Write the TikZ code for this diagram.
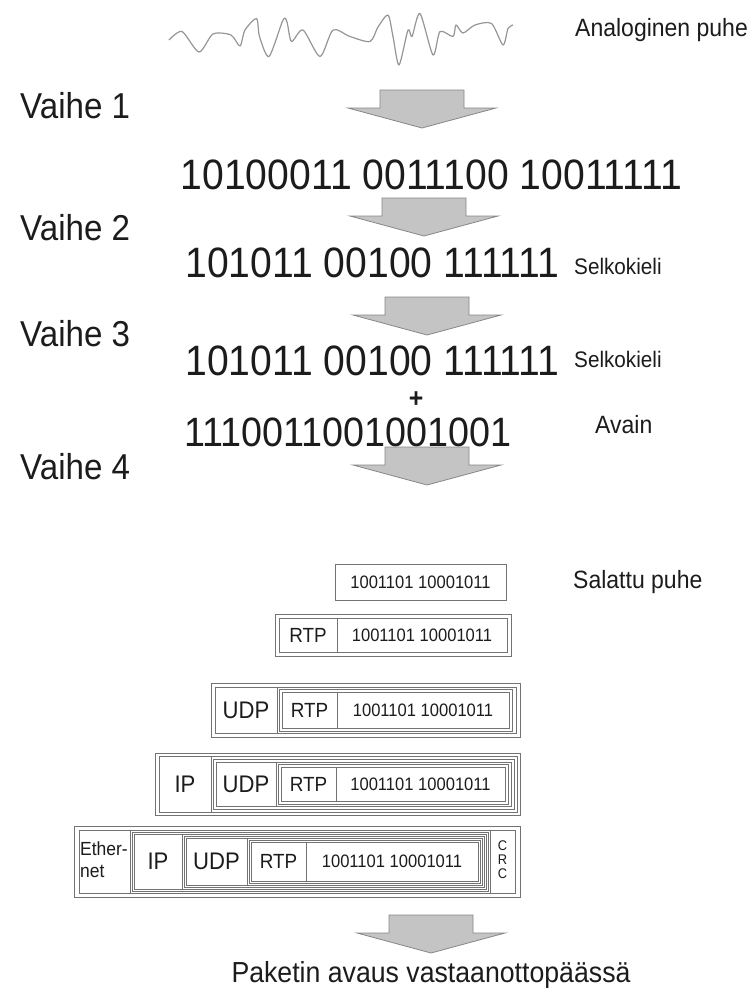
\documentclass[tikz,border=0pt]{standalone}
\usepackage{fontspec}
\setmainfont[FakeStretch=0.92]{Liberation Sans}
\definecolor{arrfill}{RGB}{196,196,196}
\definecolor{arrline}{RGB}{135,135,135}
\definecolor{boxline}{RGB}{115,115,115}
\definecolor{wavecol}{RGB}{150,150,150}
\definecolor{txt}{RGB}{28,28,28}
\newcommand{\ArrDown}[2]{\filldraw[arrowshape] (#1-42,#2) -- (#1+42,#2) -- (#1+42,#2+18) -- (#1+74,#2+18) -- (#1,#2+38) -- (#1-74,#2+18) -- (#1-42,#2+18) -- cycle;}
\tikzset{
  arrowshape/.style={fill=arrfill, draw=arrline, line width=0.8pt, line join=miter},
  pk/.style={draw=boxline, line width=0.8pt},
  vaihe/.style={anchor=west, inner sep=0pt, text=txt, font=\fontsize{36}{36}\selectfont},
  big/.style={inner sep=0pt, text=txt, font=\fontsize{42.5}{42.5}\selectfont},
  lbl/.style={anchor=west, inner sep=0pt, text=txt, font=\fontsize{25}{25}\selectfont},
  small/.style={anchor=west, inner sep=0pt, text=txt, font=\fontsize{22.5}{22.5}\selectfont},
  pay/.style={inner sep=0pt, text=txt, font=\fontsize{18}{18}\selectfont},
  rtp/.style={inner sep=0pt, text=txt, font=\fontsize{20.5}{20.5}\selectfont},
  hdr/.style={inner sep=0pt, text=txt, font=\fontsize{24}{24}\selectfont},
}
\begin{document}
\begin{tikzpicture}[x=1pt,y=-1pt]
\useasboundingbox[fill=white] (0,0) rectangle (751,996);

% waveform
\draw[wavecol, line width=1.2pt, line join=round] plot[smooth, tension=0.45] coordinates {
(169,40) (182,31.5) (199,52) (213,34) (231,35) (240,46) (245,30) (256.5,18.5) (259.5,36.5)
(269,56.5) (283,20) (287,22) (291.5,41.5) (303,30) (320,56.5) (333,30) (350,36.5) (370,41.5)
(378,27) (388,15) (393,36.5) (399,65) (408,30) (412,36.5) (420,13.5) (433,55) (440,31.5)
(453,36.5) (456,25) (463,33) (475,25) (491.5,23.5) (503,45) (508,28.5) (513,25)};
\node[lbl] (ana) at (575,30) {Analoginen puhe};

% steps
\node[vaihe] (v1) at (20,106) {Vaihe 1};
\node[vaihe] (v2) at (20,228) {Vaihe 2};
\node[vaihe] (v3) at (20,334) {Vaihe 3};
\node[vaihe] (v4) at (20,467) {Vaihe 4};

\ArrDown{422}{90}
\node[big] (b1) at (431.5,175) {10100011 0011100 10011111};
\ArrDown{424}{198}
\node[big] (b2) at (372.5,263) {101011 00100 111111};
\node[small] (s2) at (574,266) {Selkokieli};
\ArrDown{427}{297}
\node[big] (b3) at (372.5,361) {101011 00100 111111};
\node[small] (s3) at (574,359) {Selkokieli};
\node[inner sep=0pt, text=txt, font=\fontsize{27}{27}\selectfont\bfseries] (plus) at (416,400) {+};
\node[inner sep=0pt, text=txt, font=\fontsize{41}{41}\selectfont] (key) at (348,432) {1110011001001001};
\node[lbl] (avain) at (595,425) {Avain};
\ArrDown{427}{447}

% row 1
\draw[pk] (335,564) rectangle (506,600);
\node[pay] (p1) at (420.5,582) {1001101 10001011};
\node[lbl] (sal) at (573,582) {Salattu puhe};

% row 2
\draw[pk] (275,614) rectangle (511,656);
\draw[pk] (279,618) rectangle (507,652);
\draw[pk] (337,618) -- (337,652);
\node[rtp] (r2) at (308,635) {RTP};
\node[pay] (p2) at (422,635) {1001101 10001011};

% row 3
\draw[pk] (211,683) rectangle (520,737);
\draw[pk] (215,687) rectangle (516,733);
\draw[pk] (277,687) -- (277,733);
\draw[pk] (279,689) rectangle (512,731);
\draw[pk] (282,692) rectangle (509,728);
\draw[pk] (337,692) -- (337,728);
\node[hdr] (u3) at (246,710) {UDP};
\node[rtp] (r3) at (309.5,710) {RTP};
\node[pay] (p3) at (423,710) {1001101 10001011};

% row 4
\draw[pk] (155,753) rectangle (520,815);
\draw[pk] (159,756) rectangle (517,812);
\draw[pk] (211,756) -- (211,812);
\draw[pk] (213,759) rectangle (514,809);
\draw[pk] (216,762) rectangle (511,806);
\draw[pk] (276,762) -- (276,806);
\draw[pk] (278,764) rectangle (508,804);
\draw[pk] (281,767) rectangle (505,801);
\draw[pk] (336,767) -- (336,801);
\node[hdr] (i4) at (185,784) {IP};
\node[hdr] (u4) at (246,784) {UDP};
\node[rtp] (r4) at (308.5,784) {RTP};
\node[pay] (p4) at (420.5,784) {1001101 10001011};

% row 5
\draw[pk] (74,826) rectangle (520,897);
\draw[pk] (79,830) rectangle (515,893);
\draw[pk] (130,830) -- (130,893);
\draw[pk] (490,830) -- (490,893);
\draw[pk] (132,832) rectangle (488,891);
\draw[pk] (134,834) rectangle (486,889);
\draw[pk] (182,834) -- (182,889);
\draw[pk] (184,836) rectangle (484,887);
\draw[pk] (186,838) rectangle (482,885);
\draw[pk] (247,838) -- (247,885);
\draw[pk] (249,840) rectangle (480,883);
\draw[pk] (251,842) rectangle (478,881);
\draw[pk] (306,842) -- (306,881);
\node[inner sep=0pt, anchor=west, align=left, text=txt, font=\fontsize{19}{22}\selectfont] (eth) at (80,860) {Ether-\\net};
\node[hdr] (i5) at (158,861) {IP};
\node[hdr] (u5) at (216.5,861) {UDP};
\node[rtp] (r5) at (278.5,861) {RTP};
\node[pay] (p5) at (392,861) {1001101 10001011};
\node[inner sep=0pt, align=center, text=txt, font=\fontsize{14}{14}\selectfont] (crc) at (502.5,860) {C\\R\\C};

\ArrDown{431}{915}
\node[inner sep=0pt, text=txt, font=\fontsize{29}{29}\selectfont] (fin) at (431,975) {Paketin avaus vastaanottopäässä};
\end{tikzpicture}
\end{document}
